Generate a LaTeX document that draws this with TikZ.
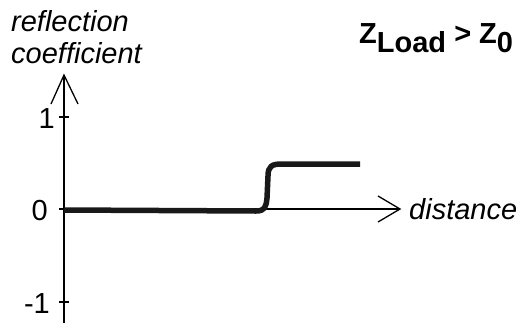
\documentclass[tikz,border=0pt]{standalone}
\usepackage{fontspec}
\setmainfont{Liberation Sans}
\begin{document}
\begin{tikzpicture}[x=1pt,y=-1pt,
  axis/.style={line width=1.3pt,black},
  curve/.style={line width=5.5pt,black!90,line cap=round,line join=round},
  lbl/.style={inner sep=0pt,font=\fontsize{29}{31}\selectfont},
  ilbl/.style={lbl,font=\fontsize{29}{31}\selectfont\itshape},
  title/.style={lbl,font=\fontsize{29}{31}\selectfont\bfseries}]
\useasboundingbox (0,0) rectangle (521,327);
% axes coordinates
\coordinate (O) at (64,209);
\coordinate (ybot) at (64,323);
\coordinate (ytop) at (64,75);
\coordinate (yhl) at (51,104);
\coordinate (yhr) at (78,104);
\coordinate (xend) at (400,209);
\coordinate (xhu) at (378,196);
\coordinate (xhd) at (378,222);
% axes
\draw[axis] (ybot) -- (ytop);
\draw[axis,line join=miter] (yhl) -- (ytop) -- (yhr);
\draw[axis] (O) -- (xend);
\draw[axis,line join=miter] (xhu) -- (xend) -- (xhd);
% ticks
\coordinate (t1a) at (59,117); \coordinate (t1b) at (69,117);
\coordinate (t0a) at (59,209);
\coordinate (tma) at (59,302); \coordinate (tmb) at (69,302);
\draw[axis] (t1a) -- (t1b);
\draw[axis] (t0a) -- (O);
\draw[axis] (tma) -- (tmb);
% curve
\coordinate (c0) at (64,210);
\coordinate (c1) at (256,211);
\coordinate (c2) at (267,198);
\coordinate (c3) at (268,176);
\coordinate (c4) at (282,164);
\coordinate (c5) at (360,164);
\draw[curve,line cap=butt] (c0) -- (c1) .. controls (265,211) and (266,207) .. (c2) -- (c3) .. controls (268,166) and (272,164) .. (c4) -- (c5);
% labels
\node[ilbl,anchor=base west] (r1) at (11,31) {reflection};
\node[ilbl,anchor=base west] (r2) at (11,63) {coefficient};
\node[ilbl,anchor=base west] (dist) at (409,219) {distance};
\node[lbl,anchor=base east] (l1) at (55,128) {1};
\node[lbl,anchor=base east] (l0) at (48,220) {0};
\node[lbl,anchor=base east] (lm) at (50,313) {-1};
\node[title,anchor=base west] (ttl) at (359,43) {Z\raisebox{-9pt}{Load} > Z\raisebox{-9pt}{0}};
\end{tikzpicture}
\end{document}
